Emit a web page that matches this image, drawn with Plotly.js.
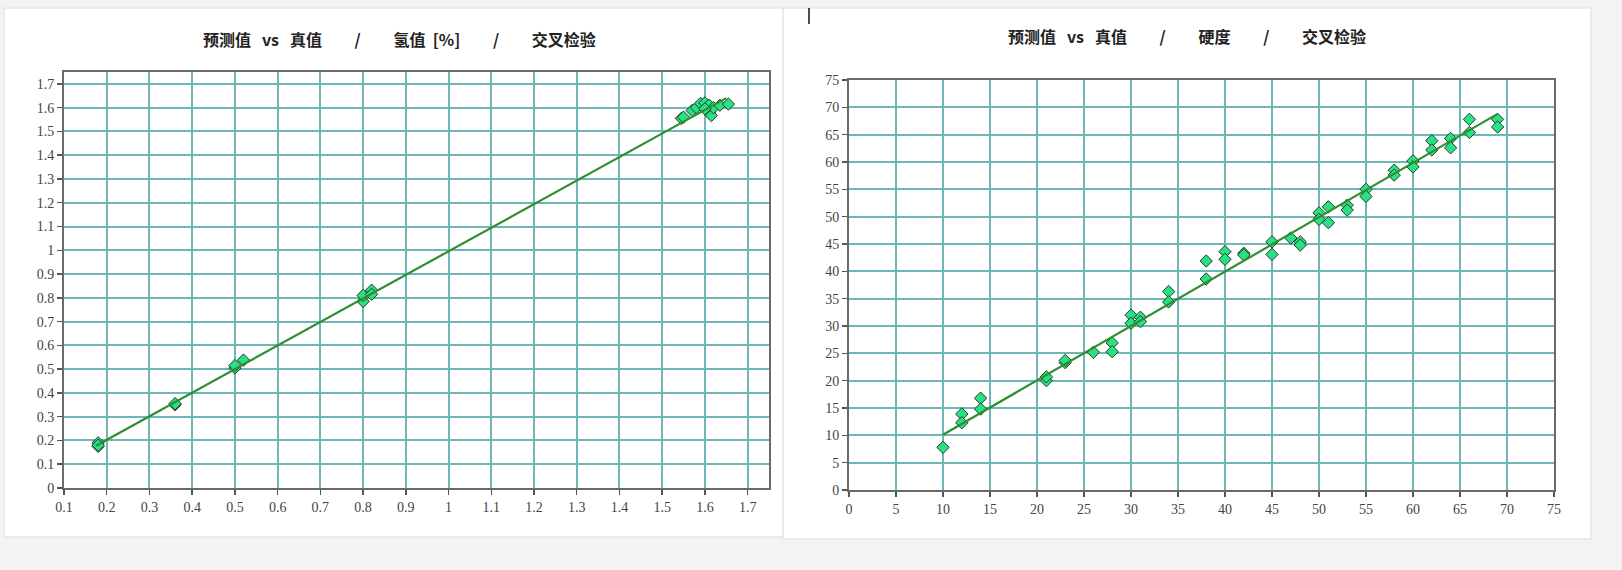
<!DOCTYPE html>
<html>
<head>
<meta charset="utf-8">
<script src="https://cdn.plot.ly/plotly-3.0.1.min.js"></script>
<style>
  html, body { margin: 0; padding: 0; background: #f3f3f3; }
  #chart { width: 1622px; height: 570px; }
</style>
</head>
<body>
<div id="chart"></div>
<script>
const S3 = "\u00A0\u00A0\u00A0";
const S10 = "\u00A0\u00A0\u00A0\u00A0\u00A0\u00A0\u00A0\u00A0\u00A0";

// ---- Left chart: 氢值 [%] ----
const hTitle = "预测值" + S3 + "vs" + S3 + "真值" + S10 + "/" + S10 + "氢值\u00A0\u00A0[%]" + S10 + "/" + S10 + "交叉检验";
const hMeasured  = [0.18, 0.18, 0.18, 0.36, 0.36, 0.50, 0.50, 0.52, 0.80, 0.80, 0.82, 0.82,
                    1.545, 1.55, 1.57, 1.58, 1.59, 1.60, 1.61, 1.61, 1.615, 1.62, 1.635, 1.655, 1.60];
const hPredicted = [0.175, 0.19, 0.18, 0.35, 0.355, 0.505, 0.515, 0.538, 0.785, 0.81, 0.832, 0.815,
                    1.555, 1.56, 1.588, 1.60, 1.618, 1.62, 1.61, 1.58, 1.567, 1.60, 1.61, 1.615, 1.595];
const hFitX = [0.175, 1.65];
const hFitY = [0.178, 1.64];
const hXTicks = [0.1,0.2,0.3,0.4,0.5,0.6,0.7,0.8,0.9,1,1.1,1.2,1.3,1.4,1.5,1.6,1.7];
const hYTicks = [0,0.1,0.2,0.3,0.4,0.5,0.6,0.7,0.8,0.9,1,1.1,1.2,1.3,1.4,1.5,1.6,1.7];

// ---- Right chart: 硬度 ----
const dTitle = "预测值" + S3 + "vs" + S3 + "真值" + S10 + "/" + S10 + "硬度" + S10 + "/" + S10 + "交叉检验";
const dMeasured  = [10, 12, 12, 14, 14, 21, 21, 23, 23, 26, 28, 28,
                    30, 30, 31, 31, 34, 34, 38, 38, 40, 40, 42, 42,
                    45, 45, 47, 48, 48, 50, 50, 51, 51, 53, 53, 55, 55,
                    58, 58, 60, 60, 62, 62, 64, 64, 66, 66, 69, 69];
const dPredicted = [7.8, 13.9, 12.3, 16.8, 14.8, 20.0, 20.7, 23.3, 23.7, 25.2, 26.9, 25.3,
                    32.0, 30.5, 31.6, 30.8, 36.3, 34.4, 38.6, 41.9, 43.6, 42.2, 43.3, 43.0,
                    45.4, 43.1, 46.1, 45.4, 44.8, 50.7, 49.5, 51.8, 48.9, 52.1, 51.2, 55.0, 53.7,
                    58.5, 57.6, 60.2, 59.1, 63.9, 62.2, 64.3, 62.6, 67.8, 65.4, 67.8, 66.4];
const dFitX = [10, 69];
const dFitY = [10.1, 68.8];
const dXTicks = [0,5,10,15,20,25,30,35,40,45,50,55,60,65,70,75];
const dYTicks = [0,5,10,15,20,25,30,35,40,45,50,55,60,65,70,75];

const W = 1622, H = 570;
const px = v => v / W;
const py = v => 1 - v / H;

const markerStyle = {
  symbol: 'diamond', size: 9.5, color: '#25e282',
  line: { color: '#333333', width: 1 }
};
const lineStyle = { color: '#2e8f2e', width: 2.2 };

const traces = [
  { x: hMeasured, y: hPredicted, xaxis: 'x', yaxis: 'y', type: 'scatter', mode: 'markers', marker: markerStyle, hoverinfo: 'x+y' },
  { x: hFitX, y: hFitY, xaxis: 'x', yaxis: 'y', type: 'scatter', mode: 'lines', line: lineStyle, hoverinfo: 'skip' },
  { x: dMeasured, y: dPredicted, xaxis: 'x2', yaxis: 'y2', type: 'scatter', mode: 'markers', marker: markerStyle, hoverinfo: 'x+y' },
  { x: dFitX, y: dFitY, xaxis: 'x2', yaxis: 'y2', type: 'scatter', mode: 'lines', line: lineStyle, hoverinfo: 'skip' }
];

const tickFont = { family: 'Liberation Serif, DejaVu Serif, serif', size: 14, color: '#444' };
const gridColor = '#6db7b7';

function axis(domain, range, ticks, anchor, extra) {
  return Object.assign({
    domain: domain, range: range, anchor: anchor,
    tickmode: 'array', tickvals: ticks, ticktext: ticks.map(String),
    showgrid: true, gridcolor: gridColor, gridwidth: 2,
    zeroline: false,
    showline: true, linecolor: '#6a6a6a', linewidth: 2, mirror: true,
    ticks: 'outside', ticklen: 5, tickwidth: 1.5, tickcolor: '#555',
    tickfont: tickFont, fixedrange: true
  }, extra || {});
}

const titleFont = { family: 'Noto Sans CJK SC, sans-serif', size: 16, color: '#222', weight: 'bold' };

const layout = {
  width: W, height: H,
  margin: { l: 0, r: 0, t: 0, b: 0 },
  paper_bgcolor: '#f3f3f3',
  plot_bgcolor: '#ffffff',
  showlegend: false,
  xaxis:  axis([px(64), px(769)], [0.1, 1.75], hXTicks, 'y'),
  yaxis:  axis([py(488), py(72)], [0, 1.75], hYTicks, 'x'),
  xaxis2: axis([px(849), px(1554)], [0, 75], dXTicks, 'y2'),
  yaxis2: axis([py(490), py(80)], [0, 75], dYTicks, 'x2'),
  shapes: [
    { type: 'rect', xref: 'paper', yref: 'paper', x0: px(4), x1: px(783), y0: py(537), y1: py(8),
      fillcolor: '#ffffff', line: { color: '#e6e6e6', width: 1.5 }, layer: 'below' },
    { type: 'rect', xref: 'paper', yref: 'paper', x0: px(783), x1: px(1591), y0: py(539), y1: py(8),
      fillcolor: '#ffffff', line: { color: '#e6e6e6', width: 1.5 }, layer: 'below' },
    { type: 'line', xref: 'paper', yref: 'paper', x0: px(809), x1: px(809), y0: py(8), y1: py(24),
      line: { color: '#111', width: 1.5 } }
  ],
  annotations: [
    { text: hTitle, xref: 'paper', yref: 'paper', x: px(399), y: py(39), xanchor: 'center', yanchor: 'middle',
      showarrow: false, font: titleFont },
    { text: dTitle, xref: 'paper', yref: 'paper', x: px(1187), y: py(36), xanchor: 'center', yanchor: 'middle',
      showarrow: false, font: titleFont }
  ]
};

Plotly.newPlot('chart', traces, layout, { displayModeBar: false, staticPlot: true });
</script>
</body>
</html>
